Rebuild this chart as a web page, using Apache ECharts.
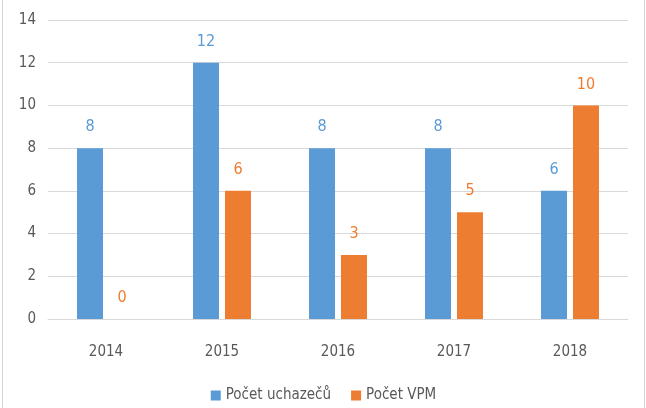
<!DOCTYPE html>
<html>
<head>
<meta charset="utf-8">
<style>
    html, body { margin: 0; padding: 0; background: #fff; }
    #chart { position: absolute; left: 2px; top: 0; width: 643px; height: 408px; box-sizing: border-box; border-left: 1px solid #d4d4d4; border-right: 1px solid #d4d4d4; }
</style>
</head>
<body>
<div id="chart"></div>
<script src="https://cdn.jsdelivr.net/npm/echarts@6/dist/echarts.min.js"></script>
<script>
    var years = ['2014', '2015', '2016', '2017', '2018'];
    var uchazecu = [8, 12, 8, 8, 6];
    var vpm = [0, 6, 3, 5, 10];

    var font = '"DejaVu Sans Condensed", "Liberation Sans", sans-serif';
    var blue = '#5b9bd5';
    var orange = '#ed7d31';

    var chart = echarts.init(document.getElementById('chart'));
    chart.setOption({
        animation: false,
        textStyle: { fontFamily: font },
        grid: { left: 45, right: 16, top: 20, bottom: 89 },
        legend: {
            bottom: 0,
            left: 'center',
            itemWidth: 10,
            itemHeight: 10,
            itemGap: 20,
            itemTextGap: 4,
            icon: 'rect',
            textStyle: { fontFamily: font, fontSize: 15, color: '#595959' },
            data: ['Počet uchazečů', 'Počet VPM']
        },
        xAxis: {
            type: 'category',
            data: years,
            axisTick: { show: false },
            axisLine: { lineStyle: { color: '#d9d9d9' } },
            axisLabel: { color: '#595959', fontSize: 15, margin: 26, fontFamily: font }
        },
        yAxis: {
            type: 'value',
            min: 0,
            max: 14,
            interval: 2,
            axisLabel: { color: '#595959', fontSize: 15, margin: 12, fontFamily: font },
            splitLine: { lineStyle: { color: '#d9d9d9' } }
        },
        series: [
            {
                name: 'Počet uchazečů',
                type: 'bar',
                data: uchazecu,
                barWidth: 26,
                barGap: '23%',
                itemStyle: { color: blue },
                label: { show: true, position: 'top', distance: 13, color: blue, fontSize: 16, fontFamily: font }
            },
            {
                name: 'Počet VPM',
                type: 'bar',
                data: vpm,
                barWidth: 26,
                itemStyle: { color: orange },
                label: { show: true, position: 'top', distance: 13, color: orange, fontSize: 16, fontFamily: font }
            }
        ]
    });
</script>
</body>
</html>
